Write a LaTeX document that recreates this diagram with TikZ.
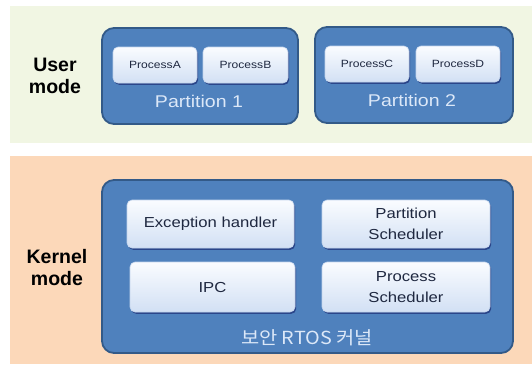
\documentclass[tikz,border=0pt]{standalone}
\usepackage{fontspec}
\setmainfont{Liberation Sans}
\newfontfamily\widefont[FakeStretch=1.15]{Liberation Sans}
\newfontfamily\krfont[FakeStretch=1.1]{Noto Sans CJK KR}
\usetikzlibrary{shadows}
\definecolor{bandgreen}{HTML}{F1F6E3}
\definecolor{bandpeach}{HTML}{FCD8B9}
\definecolor{outerblue}{HTML}{4F81BD}
\definecolor{outerline}{HTML}{335A88}
\definecolor{innertop}{HTML}{FAFCFF}
\definecolor{innerbot}{HTML}{D2E0F4}
\definecolor{innerline}{HTML}{C3D4EC}
\definecolor{innertext}{HTML}{1F2840}
\definecolor{labeltext}{HTML}{DCE8F8}
\tikzset{
  band/.style={draw=none},
  container/.style={draw=outerline, line width=1.8pt, fill=outerblue,
    rounded corners=12pt, inner sep=0pt},
  module/.style={draw=innerline, line width=0.6pt, top color=innertop,
    bottom color=innerbot, rounded corners=5pt, inner sep=0pt,
    align=center, text=innertext,
    drop shadow={shadow xshift=1.2pt, shadow yshift=-1.8pt,
      fill=black!70!blue, opacity=0.45}},
  proc/.style={module, font=\widefont\fontsize{10.5}{12}\selectfont},
  kmod/.style={module, font=\widefont\fontsize{14.5}{21}\selectfont},
  caption/.style={text=labeltext, inner sep=0pt},
  modelabel/.style={align=center, font=\bfseries\fontsize{19.5}{22}\selectfont,
    text=black, inner sep=0pt}
}
\begin{document}
\begin{tikzpicture}[x=1pt, y=-1pt]
  \useasboundingbox (0,0) rectangle (532,376);
  % background bands
  \fill[white] (0,0) rectangle (532,376);
  \fill[bandgreen] (10,6) rectangle (532,143);
  \fill[bandpeach] (10,156) rectangle (532,364);

  % user mode
  \node[modelabel] (umode) at (55,76) {User\\mode};
  \node[container, minimum width=196pt, minimum height=96pt] (p1) at (200,76) {};
  \node[container, minimum width=198pt, minimum height=96pt] (p2) at (414,75) {};
  \node[proc, minimum width=84pt, minimum height=36pt] (pa) at (155,65) {ProcessA};
  \node[proc, minimum width=85pt, minimum height=36pt] (pb) at (245.5,65) {ProcessB};
  \node[proc, minimum width=84pt, minimum height=36pt] (pc) at (367,64) {ProcessC};
  \node[proc, minimum width=84pt, minimum height=36pt] (pd) at (458,64) {ProcessD};
  \node[caption, font=\widefont\fontsize{17}{20}\selectfont] (p1l) at (199,101) {Partition 1};
  \node[caption, font=\widefont\fontsize{17}{20}\selectfont] (p2l) at (412,100) {Partition 2};

  % kernel mode
  \node[modelabel] (kmode) at (57,268) {Kernel\\mode};
  \node[container, minimum width=411pt, minimum height=173pt] (kern) at (307.5,266.5) {};
  \node[kmod, minimum width=167pt, minimum height=48pt] (exc) at (210.5,224) {Exception handler};
  \node[kmod, minimum width=168pt, minimum height=48pt] (psch) at (406,224) {Partition\\Scheduler};
  \node[kmod, minimum width=165pt, minimum height=50pt] (ipc) at (212.5,287) {IPC};
  \node[kmod, minimum width=168pt, minimum height=50pt] (prsch) at (406,287) {Process\\Scheduler};
  \node[caption, font=\krfont\fontsize{18}{21}\selectfont] (kl) at (307,338) {보안 RTOS 커널};
\end{tikzpicture}
\end{document}
